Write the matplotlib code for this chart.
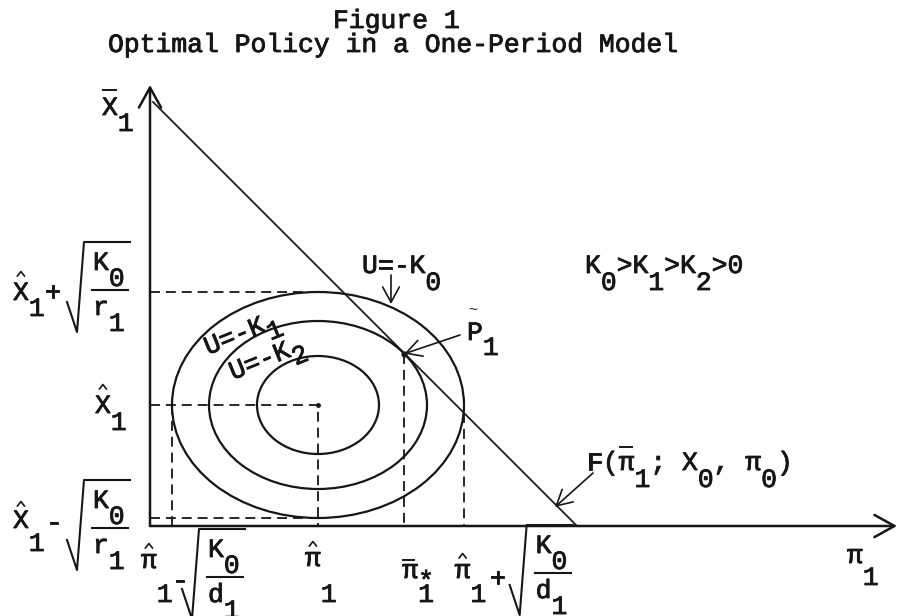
import numpy as np
import matplotlib.pyplot as plt
import matplotlib.patheffects as pe
from matplotlib.patches import Ellipse

# one-period model (1 unit = one small grid step)
pi_hat = 16.8                 # target inflation
x_hat = 12.1                  # target output
semi_pi = [14.6, 10.9, 6.1]   # half widths of U=-K0, -K1, -K2
semi_x = [11.3, 8.4, 4.9]     # half heights of U=-K0, -K1, -K2
f_intercept = 42.7            # F(pi1; X0, pi0) hits both axes here
axis_top = 44.1
axis_right = 74.7

INK = '#161616'
FONT = ['Liberation Mono', 'DejaVu Sans Mono']
SIZE = 19
ADV = 0.6 * SIZE / 72 * 100 / 10   # one typewriter cell in data units
HEAVY = [pe.withStroke(linewidth=0.6, foreground=INK)]

# tangency point P1 with the K1 contour
s1 = np.hypot(semi_pi[1], semi_x[1])
p1 = (pi_hat + semi_pi[1] ** 2 / s1, x_hat + semi_x[1] ** 2 / s1)

# where F cuts the K0 contour on the lower right
a, b = semi_pi[0], semi_x[0]
t = np.arctan2(b, a) - np.arccos((f_intercept - pi_hat - x_hat) / np.hypot(a, b))
q = (pi_hat + a * np.cos(t), x_hat + b * np.sin(t))

fig = plt.figure(figsize=(8.98, 6.16), dpi=100)
ax = fig.add_axes([0, 0, 1, 1])
ax.set_xlim(-15.0, 74.8)
ax.set_ylim(-9.0, 52.6)
ax.axis('off')


def row(x, y, s, drop=1.7, rot=0, size=SIZE):
    # typewriter line: a char after '_' is typed half a line down
    c, sn = np.cos(np.radians(rot)), np.sin(np.radians(rot))
    col, low = 0, False
    for ch in s:
        if ch == '_':
            low = True
            continue
        dx, dy = col * ADV, (-drop if low else 0)
        ax.text(x + dx * c - dy * sn, y + dx * sn + dy * c, ch, family=FONT,
                size=size, color=INK, ha='left', va='baseline',
                rotation=rot, rotation_mode='anchor', path_effects=HEAVY)
        col += 1
        low = False


def hat(x, y):
    ax.plot([x - 0.35, x, x + 0.35], [y, y + 0.45, y], color=INK, lw=1.2)


def bar(x, y, w=1.2):
    ax.plot([x, x + w], [y, y], color=INK, lw=1.4)


def root(x0, yb, num, den):
    ax.plot([x0, x0 + 1.0, x0 + 1.7, x0 + 6.3], [yb - 1.2, yb - 4.2, yb + 4.8, yb + 4.8],
            color=INK, lw=1.5)
    ax.plot([x0 + 2.5, x0 + 6.1], [yb, yb], color=INK, lw=1.5)
    row(x0 + 2.6, yb + 2.0, num, drop=1.6)
    row(x0 + 2.6, yb - 2.5, den, drop=1.6)


def arrow(start, end, lw=1.2, hl=0.55, hw=0.3):
    ax.annotate('', xy=end, xytext=start, annotation_clip=False,
                arrowprops=dict(arrowstyle='->,head_length=%s,head_width=%s' % (hl, hw),
                                color=INK, lw=lw, shrinkA=0, shrinkB=0, mutation_scale=20))


# axes
arrow((0, 0), (axis_right, 0), lw=1.8, hl=0.72, hw=0.4)
arrow((0, 0), (0, axis_top), lw=1.8, hl=0.72, hw=0.4)

# iso-loss ellipses and the constraint
for w, h in zip(semi_pi, semi_x):
    ax.add_patch(Ellipse((pi_hat, x_hat), 2 * w, 2 * h, fill=False, ec=INK, lw=1.6))
ax.plot([0.3, f_intercept], [f_intercept - 0.3, 0], color=INK, lw=1.25)

dash = dict(color=INK, lw=1.3, ls=(0, (5.5, 3.3)))
ax.plot([0, pi_hat], [x_hat + semi_x[0]] * 2, **dash)
ax.plot([0, pi_hat, pi_hat], [x_hat, x_hat, 0], **dash)
ax.plot([0, pi_hat], [x_hat - semi_x[0]] * 2, **dash)
ax.plot([pi_hat - semi_pi[0]] * 2, [x_hat, 0], **dash)
ax.plot([p1[0]] * 2, [p1[1], 0], **dash)
ax.plot([q[0]] * 2, [q[1], 0], **dash)
ax.plot(*p1, 'o', ms=3.5, color=INK)
ax.plot(pi_hat, x_hat, 'o', ms=2.5, color=INK)

# title
ax.text(18.3, 49.8, 'Figure 1', family=FONT, size=SIZE, color=INK, va='baseline',
        path_effects=HEAVY)
ax.text(-4.2, 47.4, 'Optimal Policy in a One-Period Model', family=FONT, size=SIZE,
        color=INK, va='baseline', path_effects=HEAVY)

# vertical axis labels
row(-4.8, 41.1, 'X_1', drop=1.6)
bar(-4.7, 43.6, w=1.3)

top = x_hat + semi_x[0]
row(-13.7, top - 0.8, 'X_1+', drop=1.6)
hat(-13.7 + ADV / 2, top + 1.6)
root(-8.3, top + 0.2, 'K_0', 'r_1')

row(-5.5, x_hat - 0.8, 'X_1', drop=1.7)
hat(-5.5 + ADV / 2, x_hat + 1.6)

low = x_hat - semi_x[0]
row(-13.7, low - 1.0, 'X_1', drop=2.3)
hat(-13.7 + ADV / 2, low + 1.2)
row(-10.4, low - 1.2, '-')
root(-8.3, low - 1.0, 'K_0', 'r_1')

# horizontal axis labels
lo = pi_hat - semi_pi[0]
row(lo - 3.1, -4.2, 'π_1', drop=3.4)
hat(lo - 3.1 + ADV / 2, -2.2)
row(lo + 0.0, -6.2, '-')
root(lo + 1.0, -5.1, 'K_0', 'd_1')

row(pi_hat - 1.3, -4.0, 'π_1', drop=3.6)
hat(pi_hat - 1.3 + ADV / 2, -2.0)

row(p1[0] - 0.2, -5.2, 'π')
bar(p1[0] - 0.1, -3.4, w=1.1)
row(p1[0] - 0.2 + ADV, -6.3, '*')
row(p1[0] - 0.2 + ADV, -7.6, '1')

row(q[0] - 0.9, -5.2, 'π_1', drop=2.4)
hat(q[0] - 0.9 + ADV / 2, -3.2)
row(q[0] + 2.6, -6.0, '+')
root(q[0] + 4.6, -4.7, 'K_0', 'd_1')

row(69.7, -3.7, 'π_1', drop=2.2)

# contour tags and notes
row(21.2, 25.3, 'U=-K_0')
arrow((24.1, 25.1), (24.1, 22.2), lw=1.2)
row(5.8, 17.1, 'U=-K_1', drop=1.0, rot=22)
row(8.3, 14.6, 'U=-K_2', drop=1.0, rot=22)

row(31.7, 18.6, 'P_1', drop=1.5)
ax.text(32.3, 21.6, '~', family=FONT, size=11, color=INK, ha='center', va='center')
arrow((31.0, 19.1), p1)

row(43.5, 25.3, 'K_0>K_1>K_2>0')

row(43.7, 5.6, 'F(π_1; X_0, π_0)')
bar(43.7 + 2 * ADV + 0.1, 7.9, w=1.2)
arrow((44.3, 5.3), (40.5, 1.9))

fig.savefig('out.png', dpi=100, facecolor='white')
